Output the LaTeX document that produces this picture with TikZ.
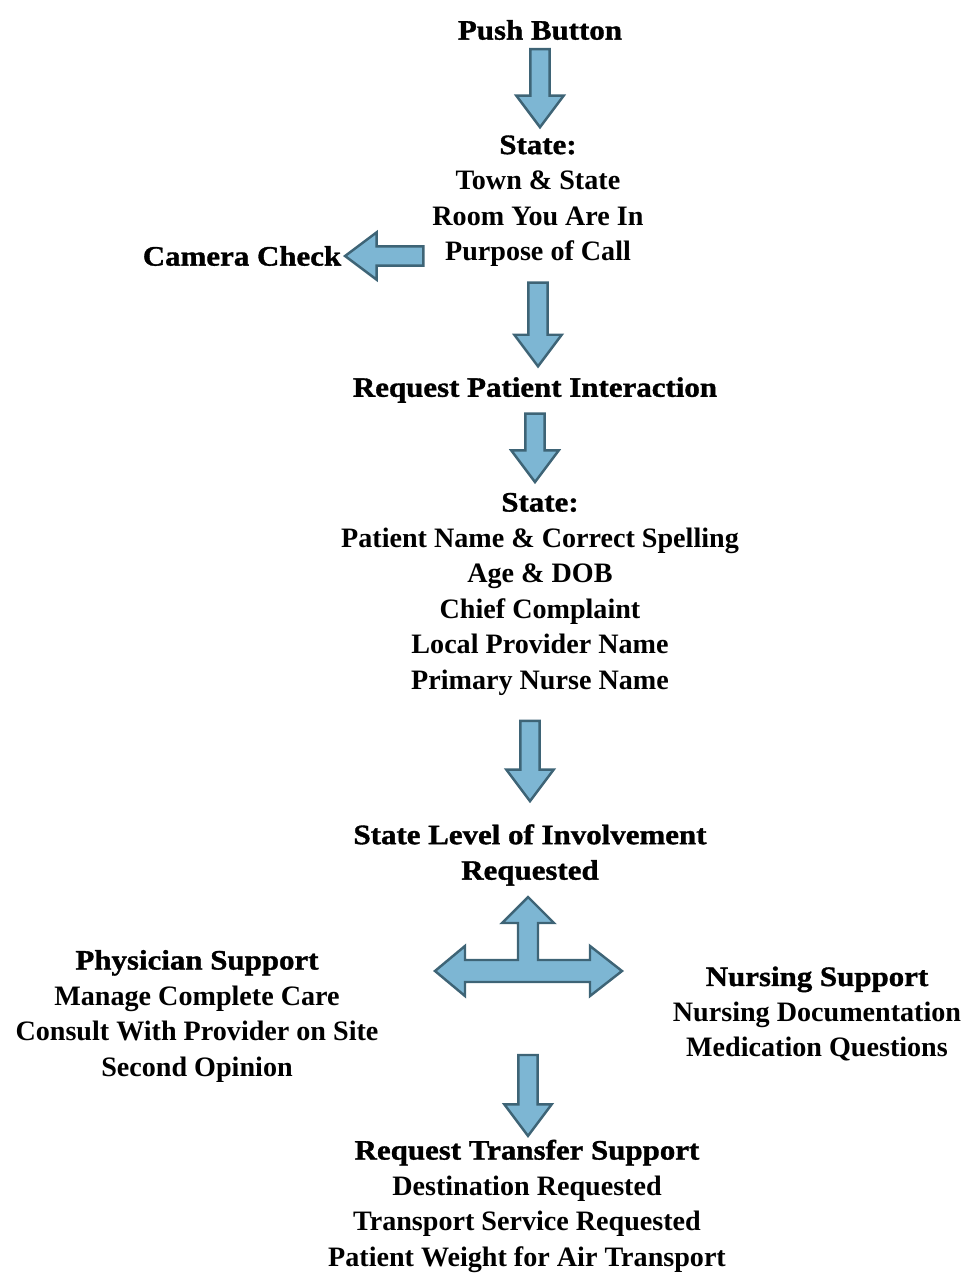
\documentclass[tikz,border=0pt]{standalone}
\usepackage{fontspec}
\setmainfont{Liberation Serif}
\newfontfamily\headfont[FakeStretch=1.1,FakeBold=1.2]{Liberation Serif}
\usetikzlibrary{calc}
\definecolor{arrowfill}{HTML}{7DB6D3}
\definecolor{arrowline}{HTML}{3E6476}
\begin{document}
\begin{tikzpicture}[
    x=0.02cm, y=-0.02cm,
    every node/.style={align=center, inner sep=2pt, font=\bfseries\fontsize{16}{20.2}\selectfont},
    fat shape/.style={draw=arrowline, fill=arrowfill, line width=1.4pt, line join=miter},
    fat arrow/.style={fat shape,
        to path={let \p1=($(\tikztotarget)-(\tikztostart)$),
                     \n1={atan2(\y1,\x1)}, \n2={veclen(\x1,\y1)} in
            {[shift={(\tikztostart)}, rotate=\n1]
             (0pt,-5.5pt) -- (\n2-18pt,-5.5pt) -- (\n2-18pt,-13.5pt) -- (\n2,0pt)
             -- (\n2-18pt,13.5pt) -- (\n2-18pt,5.5pt) -- (0pt,5.5pt) -- cycle}}}
    ]
    \useasboundingbox (0,0) rectangle (969,1275);

    \node (push) at (540,30) {\headfont Push Button};
    \node (where) at (538,201) {{\headfont State:}\\Town \& State\\Room You Are In\\Purpose of Call};
    \node (camera) at (242,256) {\headfont Camera Check};
    \node (request) at (535,390) {\headfont Request Patient Interaction};
    \node (patient) at (540,594) {{\headfont State:}\\Patient Name \& Correct Spelling\\Age \& DOB\\
        Chief Complaint\\Local Provider Name\\Primary Nurse Name};
    \node (level) at (530,855) {\headfont State Level of Involvement\\\headfont Requested};
    \coordinate (hub) at (528,971);
    \node (physician) at (197,1016) {{\headfont Physician Support}\\Manage Complete Care\\
        Consult With Provider on Site\\Second Opinion};
    \node (nursing) at (817,1014) {{\headfont Nursing Support}\\Nursing Documentation\\Medication Questions};
    \node (transfer) at (527,1206) {{\headfont Request Transfer Support}\\Destination Requested\\
        Transport Service Requested\\Patient Weight for Air Transport};

    \draw[fat arrow] ([yshift=-3pt]push.south) to ([yshift=2.5pt]push.south |- where.north);
    \draw[fat arrow] ([xshift=-3pt]where.west |- camera.east) to (camera.east);
    \draw[fat arrow] ([yshift=-7pt]where.south) to ([yshift=4pt]where.south |- request.north);
    \draw[fat arrow] ([yshift=-4pt]request.south) to ([yshift=4pt]request.south |- patient.north);
    \draw[fat arrow] ([yshift=-12.5pt]level.north |- patient.south) to ([yshift=11pt]level.north);

    \draw[fat shape, shift={(hub)}] (0,-74) -- (26,-48) -- (10,-48) -- (10,-11) -- (62,-11)
        -- (62,-25) -- (94,0) -- (62,25) -- (62,11) -- (-63,11) -- (-63,25) -- (-93,0)
        -- (-63,-25) -- (-63,-11) -- (-10,-11) -- (-10,-48) -- (-26,-48) -- cycle;
    \draw[fat arrow] ($(hub)+(0,84)$) to (hub |- transfer.north);
\end{tikzpicture}
\end{document}
